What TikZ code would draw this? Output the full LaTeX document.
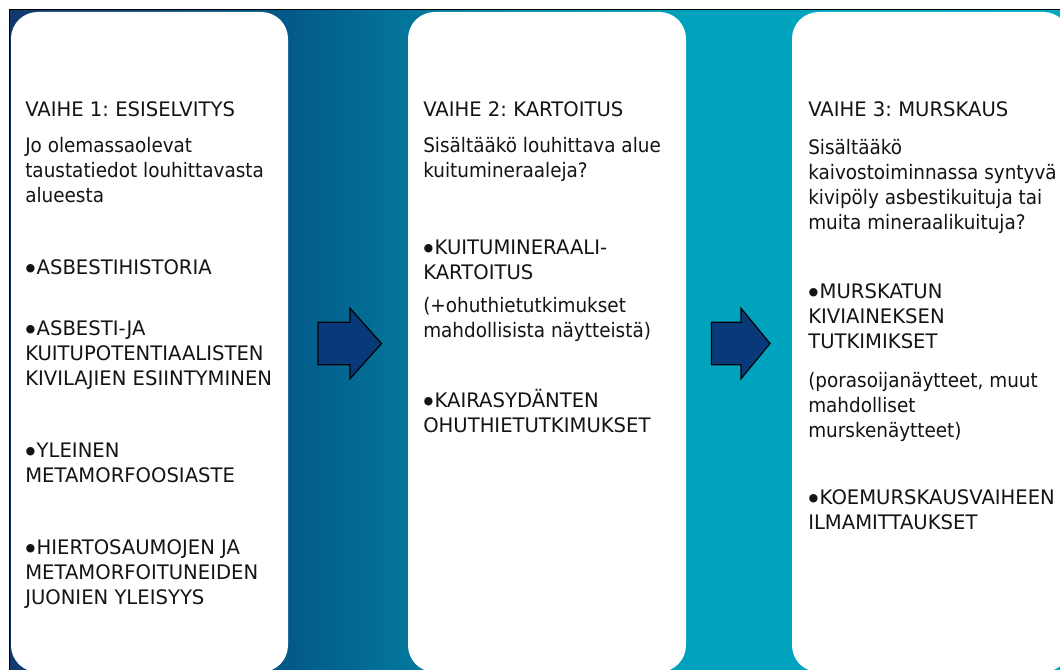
\documentclass[tikz,border=0pt]{standalone}
\usepackage{fontspec}
\setmainfont{DejaVu Sans}[FakeStretch=0.92]
\newfontfamily\ucf{DejaVu Sans}[FakeStretch=0.98]
\frenchspacing
\pgfdeclarehorizontalshading{bgshade}{100bp}{rgb(0bp)=(0.063,0.227,0.431); rgb(25bp)=(0.063,0.227,0.431); rgb(38.37bp)=(0.012,0.353,0.541); rgb(43.6bp)=(0.012,0.455,0.604); rgb(57.4bp)=(0,0.635,0.741); rgb(75bp)=(0,0.667,0.773); rgb(100bp)=(0,0.667,0.773)}
\definecolor{arrowfill}{RGB}{8,58,122}
\definecolor{txtc}{RGB}{20,20,20}
\newcommand{\fl}{\rule{0pt}{15pt}}
\newcommand{\bul}{\kern-2.4pt\raisebox{-3.6pt}{\scalebox{1.45}{•}}\kern-1.6pt}
\tikzset{
  card/.style={fill=white, draw=none, rounded corners=20pt, inner sep=0pt},
  ltxt/.style={anchor=north west, inner sep=0pt, align=left, text=txtc, font=\fontsize{15pt}{18.75pt}\selectfont\frenchspacing},
  utxt/.style={anchor=north west, inner sep=0pt, align=left, text=txtc, font=\fontsize{15pt}{18.75pt}\selectfont\ucf\frenchspacing},
  blockarrow/.style={fill=arrowfill, draw=black, line width=0.9pt, line join=miter}
}
\begin{document}
\begin{tikzpicture}[x=0.75pt, y=-0.75pt]
\useasboundingbox (0,0) rectangle (1060,670);
\clip (0,0) rectangle (1060,670);
% background
\shade[shading=bgshade] (9,10) rectangle (1060,670);
\draw[black, line width=0.75pt] (9,671) -- (9,10) -- (1061,10);
% cards
\node[card, minimum width=207.75pt, minimum height=495pt] (c1) at (149.5,342) {};
\node[card, minimum width=208.5pt, minimum height=495pt] (c2) at (547,342) {};
\node[card, minimum width=208.5pt, minimum height=495pt] (c3) at (931,342) {};
% arrows
\coordinate (a1) at (318,343.5);
\coordinate (a2) at (711.5,343.5);
\draw[blockarrow] (a1) ++(0,-21.25) -- ++(32,0) -- ++(0,-14) -- ++(31.5,35.25) -- ++(-31.5,35.25) -- ++(0,-14) -- ++(-32,0) -- cycle;
\draw[blockarrow] (a2) ++(0,-21.25) -- ++(29.5,0) -- ++(0,-14) -- ++(29,35.25) -- ++(-29,35.25) -- ++(0,-14) -- ++(-29.5,0) -- cycle;
% card 1
\node[utxt] (t1) at (25,96) {\fl VAIHE 1: ESISELVITYS};
\node[ltxt] (i1) at (25,132) {\fl Jo olemassaolevat\\taustatiedot louhittavasta\\alueesta};
\node[utxt] (b11) at (25,254) {\fl \bul ASBESTIHISTORIA};
\node[utxt] (b12) at (25,315) {\fl \bul ASBESTI-JA\\KUITUPOTENTIAALISTEN\\KIVILAJIEN ESIINTYMINEN};
\node[utxt] (b13) at (25,437) {\fl \bul YLEINEN\\METAMORFOOSIASTE};
\node[utxt] (b14) at (25,534) {\fl \bul HIERTOSAUMOJEN JA\\METAMORFOITUNEIDEN\\JUONIEN YLEISYYS};
% card 2
\node[utxt] (t2) at (423,96) {\fl VAIHE 2: KARTOITUS};
\node[ltxt] (i2) at (423,132) {\fl Sisältääkö louhittava alue\\kuitumineraaleja?};
\node[utxt] (b21) at (423,234) {\fl \bul KUITUMINERAALI-\\KARTOITUS};
\node[ltxt] (p2) at (423,292) {\fl (+ohuthietutkimukset\\mahdollisista näytteistä)};
\node[utxt] (b22) at (423,387) {\fl \bul KAIRASYDÄNTEN\\OHUTHIETUTKIMUKSET};
% card 3
\node[utxt] (t3) at (808,96) {\fl VAIHE 3: MURSKAUS};
\node[ltxt] (i3) at (808,134) {\fl Sisältääkö\\kaivostoiminnassa syntyvä\\kivipöly asbestikuituja tai\\muita mineraalikuituja?};
\node[utxt] (b31) at (808,278) {\fl \bul MURSKATUN\\KIVIAINEKSEN\\TUTKIMIKSET};
\node[ltxt] (p3) at (808,367) {\fl (porasoijanäytteet, muut\\mahdolliset\\murskenäytteet)};
\node[utxt] (b32) at (808,484) {\fl \bul KOEMURSKAUSVAIHEEN\\ILMAMITTAUKSET};
\end{tikzpicture}
\end{document}
